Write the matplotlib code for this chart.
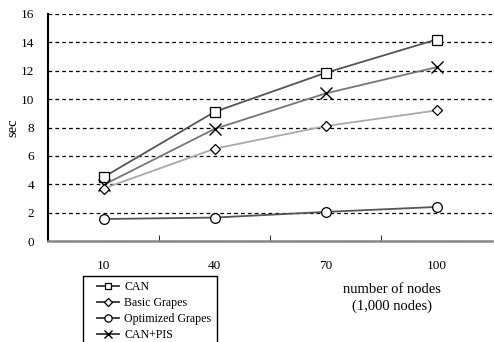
import numpy as np
import matplotlib.pyplot as plt
from matplotlib.lines import Line2D
from matplotlib.legend_handler import HandlerLine2D

plt.rcParams['font.family'] = ['Liberation Serif', 'DejaVu Serif']

# data
nodes = ["10", "40", "70", "100"]
can = [4.5, 9.1, 11.85, 14.2]
basic_grapes = [3.7, 6.5, 8.1, 9.2]
optimized_grapes = [1.55, 1.65, 2.05, 2.4]
can_pis = [3.95, 7.9, 10.4, 12.25]

fig = plt.figure(figsize=(4.94, 3.42), dpi=100)
ax = fig.add_axes([48 / 494, 101 / 342, 444 / 494, 227 / 342])

x = np.arange(len(nodes))
ax.plot(x, can, color="#555555", lw=1.3, marker="s", ms=6.5,
        mfc="white", mec="black", mew=0.9, label="CAN", zorder=4)
ax.plot(x, basic_grapes, color="#aaaaaa", lw=1.3, marker="D", ms=5.5,
        mfc="white", mec="black", mew=0.9, label="Basic Grapes", zorder=5)
ax.plot(x, optimized_grapes, color="#555555", lw=1.3, marker="o", ms=7,
        mfc="white", mec="black", mew=0.9, label="Optimized Grapes", zorder=4)
ax.plot(x, can_pis, color="#777777", lw=1.3, marker="x", ms=8,
        mec="black", mew=1.0, label="CAN+PIS", zorder=4)

ax.set_xlim(-0.5, 3.5)
ax.set_ylim(0, 16)
ax.set_yticks(range(0, 17, 2))
ax.set_xticks(x)
ax.set_xticklabels(nodes)
ax.set_xticks([0.5, 1.5, 2.5], minor=True)
ax.tick_params(axis="x", which="major", length=0, pad=14, labelsize=9.5)
ax.tick_params(axis="x", which="minor", length=4, direction="in", color="black")
ax.tick_params(axis="y", length=0, pad=10, labelsize=9.5)

ax.yaxis.grid(True, linestyle=(0, (3, 2.5)), color="black", lw=0.9)
ax.set_axisbelow(True)

for side in ["top", "right"]:
    ax.spines[side].set_visible(False)
ax.spines["left"].set_color("black")
ax.spines["left"].set_linewidth(1.5)
ax.spines["bottom"].set_color("#888888")
ax.spines["bottom"].set_linewidth(1.8)

fig.text(13 / 494, 1 - 128 / 342, "sec", rotation=90, ha="center", va="center", fontsize=10.5)
fig.text(392 / 494, 1 - 298 / 342, "number of nodes\n(1,000 nodes)", ha="center",
         va="center", fontsize=10.5, linespacing=1.3)

leg = fig.legend(loc="upper left", bbox_to_anchor=(83 / 494, 1 - 276 / 342),
                 fancybox=False, edgecolor="black", framealpha=1, fontsize=8.6,
                 handlelength=2.6, handletextpad=0.4, labelspacing=0.32,
                 borderpad=0.45, borderaxespad=0, markerscale=0.75,
                 handler_map={Line2D: HandlerLine2D(xpad=0.75)})
leg.get_frame().set_linewidth(1.0)
for line in leg.get_lines():
    line.set_color("#333333")

fig.savefig("out.png", dpi=100)
